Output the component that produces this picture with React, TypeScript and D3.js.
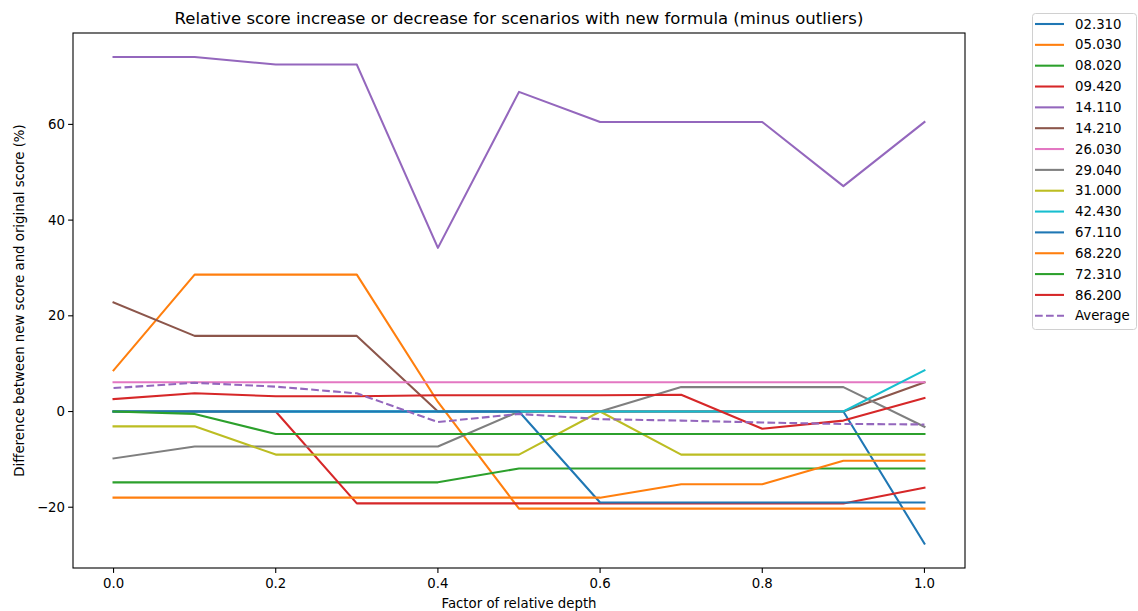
import { useEffect, useRef } from 'react';
import * as d3 from 'd3';

// factor of relative depth
const depths = [0, 0.1, 0.2, 0.3, 0.4, 0.5, 0.6, 0.7, 0.8, 0.9, 1.0];

const s02310 = [0, 0, 0, 0, 0, 0, 0, 0, 0, 0, -27.6];
const s05030 = [8.6, 28.6, 28.6, 28.6, 2.0, -20.3, -20.3, -20.3, -20.3, -20.3, -20.3];
const s08020 = [-14.8, -14.8, -14.8, -14.8, -14.8, -11.9, -11.9, -11.9, -11.9, -11.9, -11.9];
const s09420 = [0, 0, 0, -19.2, -19.2, -19.2, -19.2, -19.2, -19.2, -19.2, -15.9];
const s14110 = [74.1, 74.1, 72.5, 72.5, 34.2, 66.8, 60.5, 60.5, 60.5, 47.1, 60.5];
const s14210 = [22.8, 15.8, 15.8, 15.8, 0, 0, 0, 0, 0, 0, 6.1];
const s26030 = [6.1, 6.1, 6.1, 6.1, 6.1, 6.1, 6.1, 6.1, 6.1, 6.1, 6.1];
const s29040 = [-9.8, -7.3, -7.3, -7.3, -7.3, 0, 0, 5.1, 5.1, 5.1, -3.2];
const s31000 = [-3.1, -3.1, -9.0, -9.0, -9.0, -9.0, 0, -9.0, -9.0, -9.0, -9.0];
const s42430 = [0, 0, 0, 0, 0, 0, 0, 0, 0, 0, 8.6];
const s67110 = [0, 0, 0, 0, 0, 0, -19.0, -19.0, -19.0, -19.0, -19.0];
const s68220 = [-18.0, -18.0, -18.0, -18.0, -18.0, -18.0, -18.0, -15.2, -15.2, -10.3, -10.3];
const s72310 = [0, -0.5, -4.7, -4.7, -4.7, -4.7, -4.7, -4.7, -4.7, -4.7, -4.7];
const s86200 = [2.6, 3.8, 3.2, 3.2, 3.4, 3.4, 3.4, 3.5, -3.6, -1.9, 2.8];
const average = [4.9, 6.0, 5.2, 3.8, -2.2, -0.5, -1.6, -1.9, -2.3, -2.6, -2.7];

const seriesNames = ['02.310', '05.030', '08.020', '09.420', '14.110', '14.210', '26.030',
  '29.040', '31.000', '42.430', '67.110', '68.220', '72.310', '86.200'];
const seriesValues = [s02310, s05030, s08020, s09420, s14110, s14210, s26030,
  s29040, s31000, s42430, s67110, s68220, s72310, s86200];

const xTicks = [0, 0.2, 0.4, 0.6, 0.8, 1.0];
const yTicks = [-20, 0, 20, 40, 60];

const tab10 = ['#1f77b4', '#ff7f0e', '#2ca02c', '#d62728', '#9467bd',
  '#8c564b', '#e377c2', '#7f7f7f', '#bcbd22', '#17becf'];

export default function App() {
  const svgRef = useRef<SVGSVGElement>(null);
  const width = 1138;
  const height = 611;

  useEffect(() => {
    if (!svgRef.current) return;
    const svg = d3.select(svgRef.current);
    svg.selectAll('*').remove();

    const plot = { left: 73, right: 965, top: 33, bottom: 568 };
    const font = 'DejaVu Sans, sans-serif';

    const x = d3.scaleLinear().domain([-0.05, 1.05]).range([plot.left, plot.right]);
    const y = d3.scaleLinear().domain([-32.7, 79.1]).range([plot.bottom, plot.top]);

    const line = d3.line<number>()
      .x((_, i) => x(depths[i]))
      .y(d => y(d));

    // series lines
    const g = svg.append('g');
    seriesValues.forEach((vals, i) => {
      g.append('path')
        .attr('d', line(vals))
        .attr('fill', 'none')
        .attr('stroke', tab10[i % 10])
        .attr('stroke-width', 2.08)
        .attr('stroke-linejoin', 'round')
        .attr('stroke-linecap', 'square');
    });
    g.append('path')
      .attr('d', line(average))
      .attr('fill', 'none')
      .attr('stroke', tab10[4])
      .attr('stroke-width', 2.08)
      .attr('stroke-dasharray', '7.7,3.3');

    // frame
    svg.append('rect')
      .attr('x', plot.left)
      .attr('y', plot.top)
      .attr('width', plot.right - plot.left)
      .attr('height', plot.bottom - plot.top)
      .attr('fill', 'none')
      .attr('stroke', '#000')
      .attr('stroke-width', 1.1);

    // x ticks
    xTicks.forEach(t => {
      svg.append('line')
        .attr('x1', x(t)).attr('x2', x(t))
        .attr('y1', plot.bottom).attr('y2', plot.bottom + 4.9)
        .attr('stroke', '#000').attr('stroke-width', 1.1);
      svg.append('text')
        .attr('x', x(t))
        .attr('y', plot.bottom + 20)
        .attr('text-anchor', 'middle')
        .attr('font-family', font)
        .attr('font-size', 13.3)
        .attr('fill', '#000')
        .text(t.toFixed(1));
    });

    // y ticks
    yTicks.forEach(t => {
      svg.append('line')
        .attr('x1', plot.left - 4.9).attr('x2', plot.left)
        .attr('y1', y(t)).attr('y2', y(t))
        .attr('stroke', '#000').attr('stroke-width', 1.1);
      svg.append('text')
        .attr('x', plot.left - 8)
        .attr('y', y(t))
        .attr('dy', '0.35em')
        .attr('text-anchor', 'end')
        .attr('font-family', font)
        .attr('font-size', 13.3)
        .attr('fill', '#000')
        .text(t < 0 ? '\u2212' + Math.abs(t) : String(t));
    });

    // title and axis labels
    svg.append('text')
      .attr('x', (plot.left + plot.right) / 2)
      .attr('y', 24)
      .attr('text-anchor', 'middle')
      .attr('font-family', font)
      .attr('font-size', 16.5)
      .attr('fill', '#000')
      .text('Relative score increase or decrease for scenarios with new formula (minus outliers)');

    svg.append('text')
      .attr('x', (plot.left + plot.right) / 2)
      .attr('y', 608)
      .attr('text-anchor', 'middle')
      .attr('font-family', font)
      .attr('font-size', 13.3)
      .attr('fill', '#000')
      .text('Factor of relative depth');

    svg.append('text')
      .attr('transform', `translate(24,${(plot.top + plot.bottom) / 2}) rotate(-90)`)
      .attr('text-anchor', 'middle')
      .attr('font-family', font)
      .attr('font-size', 13.3)
      .attr('fill', '#000')
      .text('Difference between new score and original score (%)');

    // legend
    const legend = svg.append('g');
    legend.append('rect')
      .attr('x', 1032.5).attr('y', 13.5)
      .attr('width', 104).attr('height', 316)
      .attr('rx', 3)
      .attr('fill', '#fff')
      .attr('stroke', '#d0d0d0')
      .attr('stroke-width', 1);

    const entries = seriesNames.map((n, i) => ({ name: n, color: tab10[i % 10], dash: false }))
      .concat([{ name: 'Average', color: tab10[4], dash: true }]);
    entries.forEach((e, i) => {
      const ly = 24 + i * 20.84;
      legend.append('line')
        .attr('x1', 1035).attr('x2', 1064)
        .attr('y1', ly).attr('y2', ly)
        .attr('stroke', e.color)
        .attr('stroke-width', 2.08)
        .attr('stroke-dasharray', e.dash ? '7.7,3.3' : null);
      legend.append('text')
        .attr('x', 1075)
        .attr('y', ly)
        .attr('dy', '0.35em')
        .attr('font-family', font)
        .attr('font-size', 13.3)
        .attr('fill', '#000')
        .text(e.name);
    });
  }, []);

  return (
    <svg
      ref={svgRef}
      width={width}
      height={height}
      style={{ position: 'absolute', left: 0, top: 0, background: '#fff' }}
    />
  );
}
